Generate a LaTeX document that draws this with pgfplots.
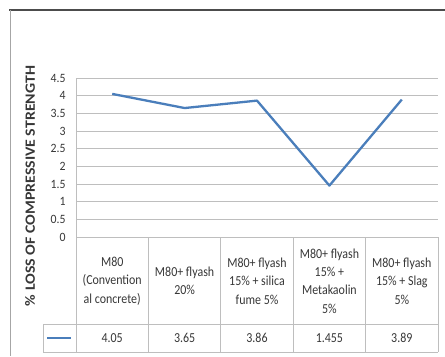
\documentclass[border=0pt]{standalone}
\usepackage{pgfplots}
\pgfplotsset{compat=1.18}
\usepackage{fontspec}
\setmainfont{Carlito}
\definecolor{seriesblue}{RGB}{74,126,187}
\definecolor{gridgray}{RGB}{190,190,190}
\definecolor{txtgray}{RGB}{55,55,55}
\begin{document}
\begin{tikzpicture}[x=1bp,y=1bp]
\useasboundingbox (0,0) rectangle (445,356);
% outer frame
\draw[line width=2bp, black!70] (9,346) -- (445,346);
\draw[line width=1.2bp, black!35] (10.5,346) -- (10.5,0);

\begin{axis}[
  at={(76bp,119bp)}, anchor=south west,
  scale only axis, width=362bp, height=159bp,
  xmin=0, xmax=5, ymin=0, ymax=4.5,
  ytick={0,0.5,...,4.5},
  xtick=\empty,
  axis line style={draw=none},
  ymajorgrids, major grid style={gridgray, line width=1bp},
  major tick length=0pt,
  /pgf/number format/assume math mode=true,
  yticklabel style={font=\fontsize{11.8}{11.8}\selectfont, text=txtgray, yscale=1.08, xshift=-7bp},
  clip=false,
]
\addplot[seriesblue, line width=2.3bp, line join=round] coordinates {
  (0.5,4.05) (1.5,3.65) (2.5,3.86) (3.5,1.455) (4.5,3.89)
};
\end{axis}

% y axis line
\draw[gridgray, line width=1bp] (76,278) -- (76,119);

% data table grid
\begin{scope}[gridgray, line width=1bp]
\draw (76,119) -- (438,119);
\draw (43,32) -- (438,32);
\draw (43,4) -- (438,4);
\draw (43,32) -- (43,4);
\foreach \xx in {76,148.4,220.8,293.2,365.6,438}
  \draw (\xx,119) -- (\xx,4);
\end{scope}

% legend key
\draw[seriesblue, line width=2.3bp] (47,18) -- (71,18);

% category labels and values
\begin{scope}[every node/.style={align=center, text=txtgray, font=\fontsize{12}{16}\selectfont, inner sep=0pt, yscale=1.15}]
\node at (112.2,75) {M80\\(Convention\\al concrete)};
\node at (184.6,75) {M80+ flyash\\20\%};
\node at (257,75) {M80+ flyash\\15\% + silica\\fume 5\%};
\node at (329.4,75) {M80+ flyash\\15\% +\\Metakaolin\\5\%};
\node at (401.8,75) {M80+ flyash\\15\% + Slag\\5\%};
\node at (112.2,18) {4.05};
\node at (184.6,18) {3.65};
\node at (257,18) {3.86};
\node at (329.4,18) {1.455};
\node at (401.8,18) {3.89};
\end{scope}

% y axis title
\node[rotate=90, font=\bfseries\fontsize{14.2}{14.2}\selectfont, text=txtgray] at (30,170)
  {\scalebox{1.12}[1]{\% LOSS OF COMPRESSIVE STRENGTH}};
\end{tikzpicture}
\end{document}
